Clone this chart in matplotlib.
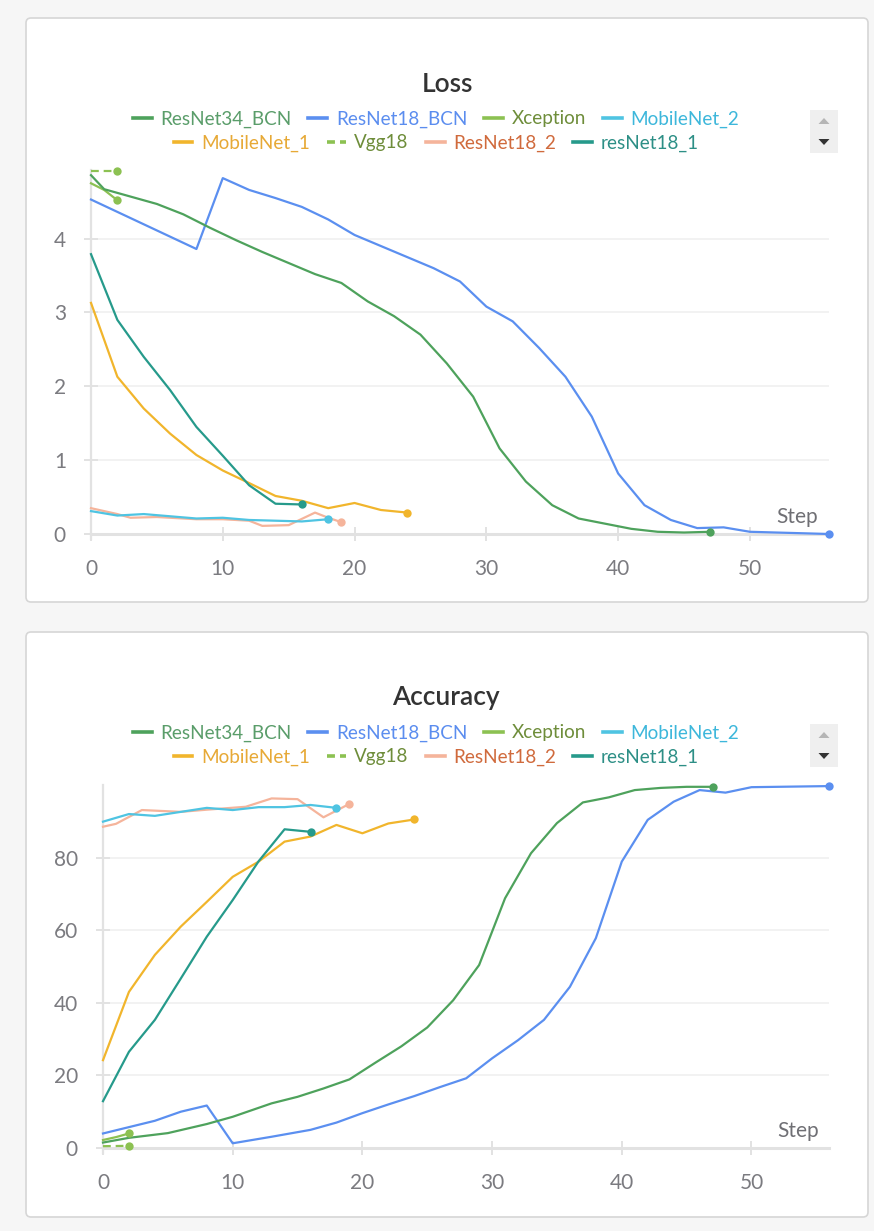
import matplotlib
matplotlib.use("Agg")
import matplotlib.pyplot as plt
from matplotlib.patches import FancyBboxPatch, Rectangle, Polygon
from matplotlib.lines import Line2D

plt.rcParams['font.family'] = ['Lato', 'DejaVu Sans']

W, H = 874, 1231

# ---------------- data ----------------
series_names = ["ResNet34_BCN", "ResNet18_BCN", "Xception", "MobileNet_2",
                "MobileNet_1", "Vgg18", "ResNet18_2", "resNet18_1"]
line_colors = {"ResNet34_BCN": "#4ea25c", "ResNet18_BCN": "#5b8ff0", "Xception": "#8cc152",
               "MobileNet_2": "#4fc4e2", "MobileNet_1": "#f1b52c", "Vgg18": "#8cc152",
               "ResNet18_2": "#f5b49b", "resNet18_1": "#269a8b"}
text_colors = {"ResNet34_BCN": "#5a9d6a", "ResNet18_BCN": "#5b8def", "Xception": "#6e8d3a",
               "MobileNet_2": "#3db7db", "MobileNet_1": "#e7a936", "Vgg18": "#6e8d3a",
               "ResNet18_2": "#d06a3c", "resNet18_1": "#2d8f86"}
dashed = {"Vgg18"}

# Loss
loss_resnet34_bcn_x = [0, 1, 3, 5, 7, 9, 11, 13, 15, 17, 19, 21, 23, 25, 27, 29, 31, 33, 35, 37, 39, 41, 43, 45, 47]
loss_resnet34_bcn_y = [4.86, 4.67, 4.57, 4.47, 4.33, 4.15, 3.98, 3.82, 3.67, 3.52, 3.40, 3.15, 2.95, 2.70, 2.31,
                       1.86, 1.16, 0.71, 0.39, 0.21, 0.14, 0.07, 0.03, 0.02, 0.03]
loss_resnet18_bcn_x = [0, 8, 10, 12, 14, 16, 18, 20, 22, 24, 26, 28, 30, 32, 34, 36, 38, 40, 42, 44, 46, 48, 50, 56]
loss_resnet18_bcn_y = [4.53, 3.86, 4.82, 4.66, 4.55, 4.43, 4.26, 4.05, 3.90, 3.75, 3.60, 3.42, 3.08, 2.88, 2.52,
                       2.13, 1.59, 0.82, 0.39, 0.19, 0.08, 0.09, 0.03, 0.0]
loss_xception_x = [0, 1, 2]
loss_xception_y = [4.75, 4.66, 4.52]
loss_mobilenet2_x = [0, 2, 4, 6, 8, 10, 12, 14, 16, 18]
loss_mobilenet2_y = [0.31, 0.25, 0.27, 0.24, 0.21, 0.22, 0.19, 0.18, 0.17, 0.20]
loss_mobilenet1_x = [0, 2, 4, 6, 8, 10, 12, 14, 16, 18, 20, 22, 24]
loss_mobilenet1_y = [3.13, 2.13, 1.70, 1.36, 1.07, 0.86, 0.69, 0.515, 0.45, 0.35, 0.42, 0.325, 0.29]
loss_vgg18_x = [0, 2]
loss_vgg18_y = [4.91, 4.91]
loss_resnet18_2_x = [0, 2, 3, 5, 8, 10, 12, 13, 15, 17, 18, 19]
loss_resnet18_2_y = [0.35, 0.27, 0.22, 0.23, 0.20, 0.20, 0.18, 0.11, 0.12, 0.29, 0.22, 0.16]
loss_resnet18_1_x = [0, 2, 4, 6, 8, 10, 12, 14, 16]
loss_resnet18_1_y = [3.79, 2.90, 2.40, 1.95, 1.45, 1.06, 0.66, 0.41, 0.40]

# Accuracy
acc_resnet34_bcn_x = [0, 2, 5, 8, 10, 13, 15, 17, 19, 21, 23, 25, 27, 29, 31, 33, 35, 37, 39, 41, 43, 45, 47]
acc_resnet34_bcn_y = [1.5, 2.8, 4.1, 6.6, 8.6, 12.3, 14.1, 16.4, 18.9, 23.5, 28.0, 33.2, 40.7, 50.4, 68.8,
                      81.2, 89.5, 95.2, 96.6, 98.6, 99.2, 99.5, 99.5]
acc_resnet18_bcn_x = [0, 4, 6, 8, 10, 13, 16, 18, 20, 22, 24, 26, 28, 30, 32, 34, 36, 38, 40, 42, 44, 46, 48, 50, 56]
acc_resnet18_bcn_y = [4.0, 7.5, 10.0, 11.7, 1.3, 3.1, 5.0, 7.0, 9.6, 12.0, 14.3, 16.8, 19.2, 24.7, 29.7, 35.3,
                      44.4, 57.8, 78.9, 90.4, 95.4, 98.6, 97.9, 99.4, 99.7]
acc_xception_x = [0, 1, 2]
acc_xception_y = [2.2, 3.0, 4.0]
acc_mobilenet2_x = [0, 2, 4, 6, 8, 10, 12, 14, 16, 18]
acc_mobilenet2_y = [89.9, 92.0, 91.5, 92.6, 93.7, 93.1, 93.9, 93.9, 94.5, 93.7]
acc_mobilenet1_x = [0, 2, 4, 6, 8, 10, 12, 14, 16, 18, 20, 22, 24]
acc_mobilenet1_y = [24.2, 43.0, 53.2, 61.0, 67.8, 74.7, 78.9, 84.4, 85.8, 89.0, 86.7, 89.4, 90.5]
acc_vgg18_x = [0, 2]
acc_vgg18_y = [0.5, 0.6]
acc_resnet18_2_x = [0, 1, 3, 6, 8, 11, 13, 15, 17, 19]
acc_resnet18_2_y = [88.5, 89.3, 93.1, 92.6, 93.2, 94.0, 96.3, 96.1, 91.1, 94.8]
acc_resnet18_1_x = [0, 2, 4, 6, 8, 10, 12, 14, 16]
acc_resnet18_1_y = [12.9, 26.5, 35.3, 46.7, 58.2, 68.3, 79.0, 87.8, 87.1]

loss_data = {
    "ResNet34_BCN": (loss_resnet34_bcn_x, loss_resnet34_bcn_y),
    "ResNet18_BCN": (loss_resnet18_bcn_x, loss_resnet18_bcn_y),
    "Xception": (loss_xception_x, loss_xception_y),
    "MobileNet_2": (loss_mobilenet2_x, loss_mobilenet2_y),
    "MobileNet_1": (loss_mobilenet1_x, loss_mobilenet1_y),
    "Vgg18": (loss_vgg18_x, loss_vgg18_y),
    "ResNet18_2": (loss_resnet18_2_x, loss_resnet18_2_y),
    "resNet18_1": (loss_resnet18_1_x, loss_resnet18_1_y),
}
acc_data = {
    "ResNet34_BCN": (acc_resnet34_bcn_x, acc_resnet34_bcn_y),
    "ResNet18_BCN": (acc_resnet18_bcn_x, acc_resnet18_bcn_y),
    "Xception": (acc_xception_x, acc_xception_y),
    "MobileNet_2": (acc_mobilenet2_x, acc_mobilenet2_y),
    "MobileNet_1": (acc_mobilenet1_x, acc_mobilenet1_y),
    "Vgg18": (acc_vgg18_x, acc_vgg18_y),
    "ResNet18_2": (acc_resnet18_2_x, acc_resnet18_2_y),
    "resNet18_1": (acc_resnet18_1_x, acc_resnet18_1_y),
}
draw_order = ["ResNet18_2", "MobileNet_2", "MobileNet_1", "resNet18_1", "Vgg18", "Xception",
              "ResNet18_BCN", "ResNet34_BCN"]

loss_yticks = [0, 1, 2, 3, 4]
acc_yticks = [0, 20, 40, 60, 80]
xticks = [0, 10, 20, 30, 40, 50]

# ---------------- figure ----------------
fig = plt.figure(figsize=(W / 100, H / 100), dpi=100)
fig.patch.set_facecolor("#f6f6f6")


def px_rect(x0, y0, x1, y1):
    """pixel box (top-left origin) -> figure fraction [l, b, w, h]"""
    return [x0 / W, 1 - y1 / H, (x1 - x0) / W, (y1 - y0) / H]


def card(y0, y1):
    p = FancyBboxPatch((26 / 100, (H - y1) / 100), (868 - 26) / 100, (y1 - y0) / 100,
                       boxstyle="round,pad=0,rounding_size=0.05",
                       transform=fig.dpi_scale_trans, facecolor="white",
                       edgecolor="#d6d6d6", linewidth=1.2, zorder=-10)
    fig.patches.append(p)


def scroll_box(ytop):
    r = Rectangle((810 / 100, (H - ytop - 43) / 100), 28 / 100, 43 / 100,
                  transform=fig.dpi_scale_trans, facecolor="#efefef", edgecolor="none", zorder=-5)
    fig.patches.append(r)
    cx = 824 / 100
    yu = (H - ytop - 11) / 100
    yd = (H - ytop - 32) / 100
    up = Polygon([[cx - 0.055, yu - 0.03], [cx + 0.055, yu - 0.03], [cx, yu + 0.03]],
                 transform=fig.dpi_scale_trans, facecolor="#b5b5b5", edgecolor="none", zorder=-4)
    dn = Polygon([[cx - 0.055, yd + 0.03], [cx + 0.055, yd + 0.03], [cx, yd - 0.03]],
                 transform=fig.dpi_scale_trans, facecolor="#333333", edgecolor="none", zorder=-4)
    fig.patches.append(up)
    fig.patches.append(dn)


card(18, 602)
card(632, 1217)
scroll_box(110)
scroll_box(724)


def style_axes(ax, yticks, ylim, xlim=(0, 56)):
    ax.set_zorder(2)
    ax.set_xlim(*xlim)
    ax.set_ylim(*ylim)
    ax.patch.set_visible(False)
    for s in ["top", "right"]:
        ax.spines[s].set_visible(False)
    ax.spines["left"].set_color("#e2e2e2")
    ax.spines["left"].set_linewidth(1.6)
    ax.spines["bottom"].set_color("#e2e2e2")
    ax.spines["bottom"].set_linewidth(2.2)
    ax.spines["left"].set_bounds(ylim[0] - (ylim[1] - ylim[0]) * 0.015, ylim[1])
    ax.set_xticks(xticks)
    ax.set_yticks(yticks)
    ax.tick_params(axis="both", colors="#e2e2e2", labelcolor="#7b7b80", labelsize=15,
                   direction="inout", length=10, width=1.4)
    ax.tick_params(axis="x", pad=13)
    ax.tick_params(axis="y", pad=13)
    ax.yaxis.grid(True, color="#f0f0f0", linewidth=1.2)
    ax.set_axisbelow(True)
    ax.text(0.985, 0.018, "Step", transform=ax.transAxes, ha="right", va="bottom",
            fontsize=15, color="#6f6f74")


def plot_series(ax, data):
    for name in draw_order:
        xs, ys = data[name]
        ls = (0, (3.5, 2.2)) if name in dashed else "-"
        ax.plot(xs, ys, color=line_colors[name], lw=1.6, ls=ls, clip_on=False,
                solid_joinstyle="round", zorder=3)
        ax.plot([xs[-1]], [ys[-1]], "o", color=line_colors[name], ms=6, mec="none",
                clip_on=False, zorder=4)


def legend_rows(y_row1, y_row2):
    rows = [series_names[:4], series_names[4:]]
    for row, ypx in zip(rows, (y_row1, y_row2)):
        handles = []
        for name in row:
            ls = (0, (2.2, 1.4)) if name in dashed else "-"
            handles.append(Line2D([0], [0], color=line_colors[name], lw=2.6, ls=ls))
        leg = fig.legend(handles, row, loc="center", bbox_to_anchor=(436 / W, 1 - ypx / H),
                         ncol=4, frameon=False, fontsize=13.6, handlelength=1.0,
                         handletextpad=0.45, columnspacing=0.9, borderpad=0, borderaxespad=0)
        for t, name in zip(leg.get_texts(), row):
            t.set_color(text_colors[name])


# Loss panel
ax1 = fig.add_axes(px_rect(91, 170, 829, 534))
style_axes(ax1, loss_yticks, (0, 4.93))
plot_series(ax1, loss_data)
fig.text(447 / W, 1 - 84 / H, "Loss", ha="center", va="center", fontsize=19,
         fontweight="semibold", color="#333333")
legend_rows(119, 143)

# Accuracy panel
ax2 = fig.add_axes(px_rect(103, 785, 829.3, 1148))
style_axes(ax2, acc_yticks, (0, 100))
plot_series(ax2, acc_data)
fig.text(446 / W, 1 - 698 / H, "Accuracy", ha="center", va="center", fontsize=19,
         fontweight="semibold", color="#333333")
legend_rows(733, 757)

fig.savefig("out.png", dpi=100, facecolor=fig.get_facecolor())
